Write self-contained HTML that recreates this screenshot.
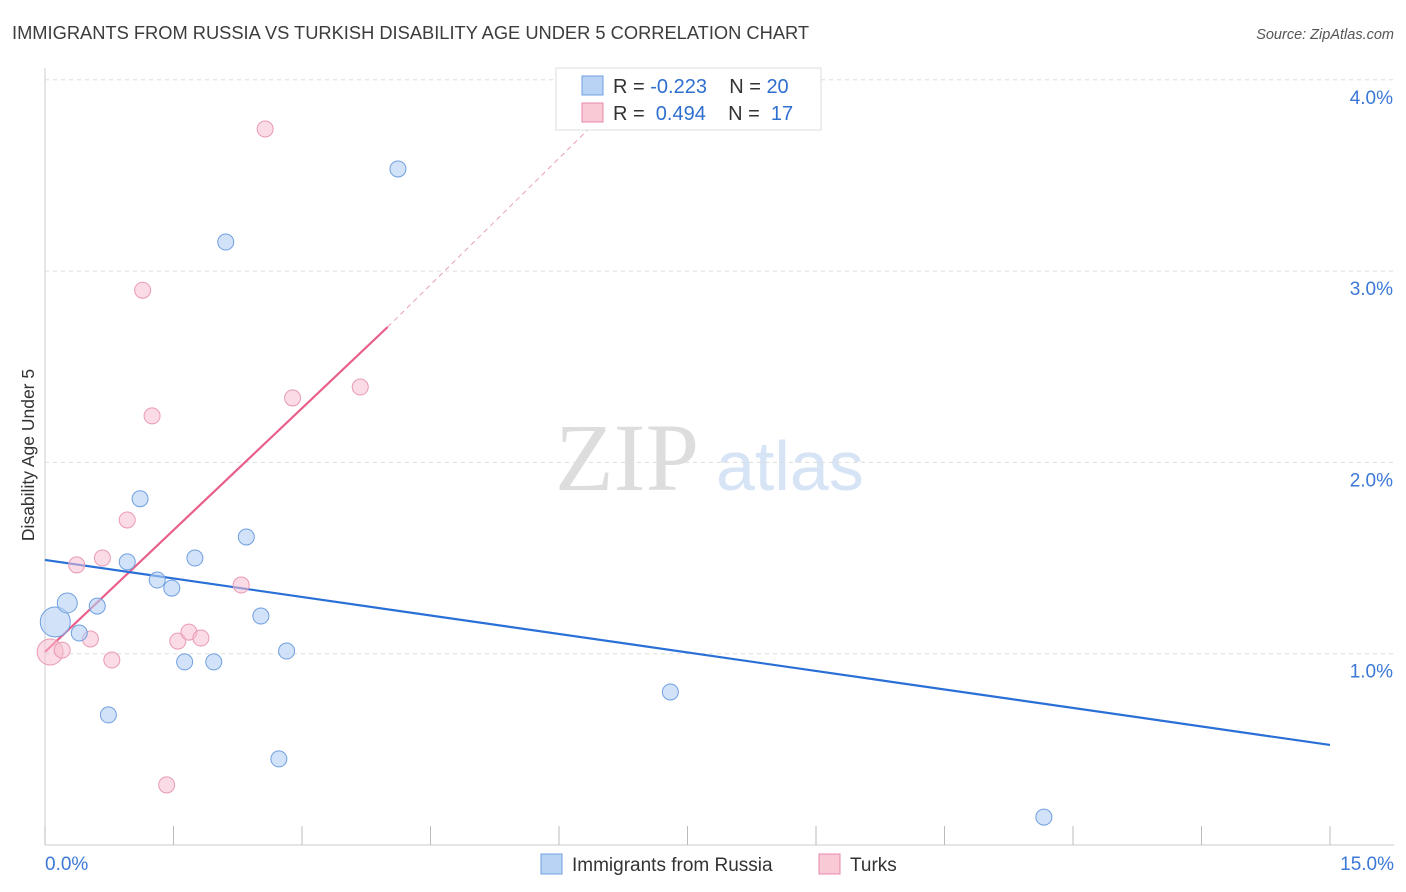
<!DOCTYPE html>
<html><head><meta charset="utf-8"><style>
body{margin:0;background:#fff;font-family:"Liberation Sans",sans-serif}
svg{display:block}
</style></head><body>
<svg id="c" width="1406" height="892" xmlns="http://www.w3.org/2000/svg">
<text x="12" y="39" font-size="18.3" fill="#3c3c3c">IMMIGRANTS FROM RUSSIA VS TURKISH DISABILITY AGE UNDER 5 CORRELATION CHART</text>
<text x="1394" y="39" font-size="14.5" fill="#555" font-style="italic" text-anchor="end">Source: ZipAtlas.com</text>
<text x="555" y="490" font-size="96" fill="#ddd" font-family="Liberation Serif,serif">ZIP</text>
<text x="716" y="490" font-size="70" fill="#d6e4f6">atlas</text>
<text transform="translate(34,455) rotate(-90)" font-size="17.5" fill="#333" text-anchor="middle">Disability Age Under 5</text>
<g id="grid"></g><g id="marks"></g>
<g>
<rect x="556" y="68" width="265" height="62" fill="#fff" stroke="#ddd"/>
<rect x="582" y="76" width="21" height="19" fill="#b9d3f5" stroke="#6f9fe0"/>
<rect x="582" y="103" width="21" height="19" fill="#f9c9d6" stroke="#e88aa8"/>
<text x="613" y="93" font-size="20" fill="#333">R = <tspan fill="#2f6fd0">-0.223</tspan>&#160;&#160;&#160;&#160;N = <tspan fill="#2f6fd0">20</tspan></text>
<text x="613" y="120" font-size="20" fill="#333">R = &#160;<tspan fill="#2f6fd0">0.494</tspan>&#160;&#160;&#160;&#160;N = &#160;<tspan fill="#2f6fd0">17</tspan></text>
</g>
<g>
<rect x="541" y="854" width="21" height="20" fill="#b9d3f5" stroke="#6f9fe0"/>
<text x="572" y="871" font-size="19" fill="#333">Immigrants from Russia</text>
<rect x="819" y="854" width="21" height="20" fill="#f9c9d6" stroke="#e88aa8"/>
<text x="850" y="871" font-size="19" fill="#333">Turks</text>
</g>
</svg>
<script>
const xTicks=[0,1.5,3,4.5,6,7.5,9,10.5,12,13.5,15];
const yTicks=[1,2,3,4];
const blueX=[0.12,0.26,0.40,0.61,0.74,0.96,1.11,1.31,1.48,1.63,1.75,1.97,2.11,2.35,2.52,2.73,2.82,4.12,7.30,11.66];
const blueY=[1.166,1.265,1.108,1.249,0.68,1.48,1.81,1.385,1.343,0.957,1.50,0.957,3.152,1.61,1.197,0.45,1.014,3.534,0.80,0.146];
const pinkX=[0.06,0.20,0.37,0.53,0.67,0.78,0.96,1.14,1.25,1.42,1.55,1.68,1.82,2.29,2.57,2.89,3.68];
const pinkY=[1.009,1.019,1.464,1.077,1.50,0.967,1.699,2.90,2.243,0.314,1.066,1.113,1.082,1.359,3.743,2.337,2.394];
const blueTrend=[1.49,0.523]; // values at x=0 and x=15
const pinkTrend=[1.009,0.4247]; // intercept, slope
const X=v=>45+v/15*1285, Y=v=>845-v*191.3;
const NS='http://www.w3.org/2000/svg';
function mk(p,t,a){const e=document.createElementNS(NS,t);for(const k in a)e.setAttribute(k,a[k]);p.appendChild(e);return e;}
const g=document.getElementById('grid'),m=document.getElementById('marks');
mk(g,'line',{x1:45,y1:68,x2:45,y2:845,stroke:'#ccc'});
mk(g,'line',{x1:45,y1:845,x2:1394,y2:845,stroke:'#ccc'});
yTicks.forEach(t=>{const l=mk(g,'line',{x1:45,y1:Y(t),x2:1394,y2:Y(t),stroke:'#ddd','stroke-dasharray':'4,4'});


const tx=mk(g,'text',{x:1393,y:Y(t)+24,'font-size':19,fill:'#3b78d8','text-anchor':'end'});tx.textContent=t.toFixed(1)+'%';

});
xTicks.forEach(t=>{const l=mk(g,'line',{x1:X(t),y1:826,x2:X(t),y2:845,stroke:'#bbb'});

});
[[0,'start',45],[15,'end',1394]].forEach(([t,a,x])=>{const tx=mk(g,'text',{x:x,y:870,'font-size':19,fill:'#3b78d8','text-anchor':a});tx.textContent=t.toFixed(1)+'%';

});
const pe=4.0;
let l=mk(m,'line',{x1:X(0),y1:Y(pinkTrend[0]),x2:X(pe),y2:Y(pinkTrend[0]+pinkTrend[1]*pe),stroke:'#e8608a','stroke-width':2.2});


const xd=(4.0-pinkTrend[0])/pinkTrend[1];
l=mk(m,'line',{x1:X(pe),y1:Y(pinkTrend[0]+pinkTrend[1]*pe),x2:X(xd),y2:Y(4.05),stroke:'#e8a0b8','stroke-width':1,'stroke-dasharray':'5,4'});


l=mk(m,'line',{x1:X(0),y1:Y(blueTrend[0]),x2:X(15),y2:Y(blueTrend[1]),stroke:'#2a6fd6','stroke-width':2.2});


pinkX.forEach((x,i)=>{const c=mk(m,'circle',{cx:X(x),cy:Y(pinkY[i]),r:i==0?13:8,fill:'rgba(248,190,208,0.55)',stroke:'#e99ab3','stroke-width':1});

});
blueX.forEach((x,i)=>{const c=mk(m,'circle',{cx:X(x),cy:Y(blueY[i]),r:i==0?15:(i==1?10:8),fill:'rgba(180,206,243,0.6)',stroke:'#6f9fe0','stroke-width':1});

});
</script>
</body></html>
